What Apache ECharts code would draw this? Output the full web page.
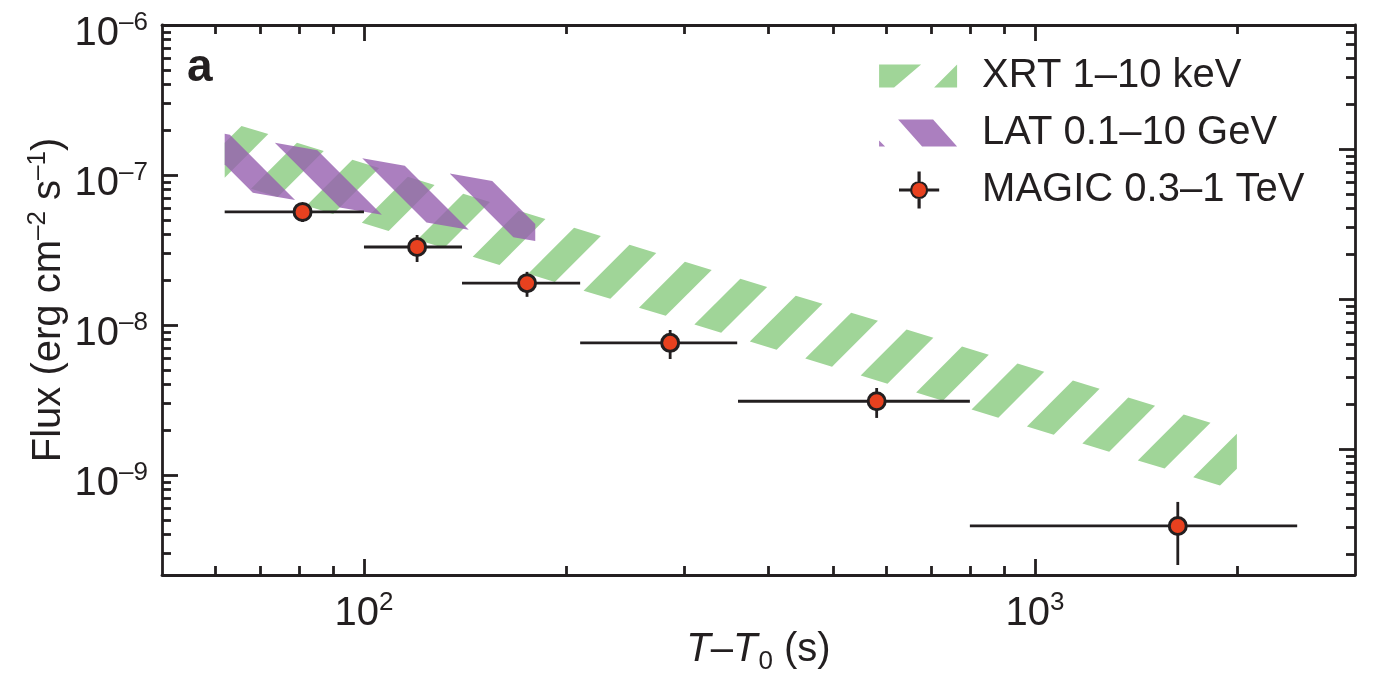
<!DOCTYPE html>
<html>
<head>
<meta charset="utf-8">
<title>Flux light curve</title>
<script src="https://cdn.jsdelivr.net/npm/echarts@6/dist/echarts.min.js"></script>
<style>
html, body { margin: 0; padding: 0; background: #fff; }
#chart { width: 1381px; height: 674px; }
</style>
</head>
<body>
<div id="chart"></div>
<script>
// MAGIC 0.3–1 TeV points: time (s) with bin edges, flux (erg cm-2 s-1) with errors
var magicTime = [81, 120, 175, 286, 581, 1633];
var magicTimeLow = [62, 100, 140, 210, 361, 800];
var magicTimeHigh = [100, 140, 210, 360, 800, 2460];
var magicFlux = [5.67e-8, 3.31e-8, 1.90e-8, 7.6e-9, 3.1e-9, 4.57e-10];
var magicFluxLow = [4.86e-8, 2.63e-8, 1.54e-8, 5.93e-9, 2.40e-9, 2.51e-10];
var magicFluxHigh = [6.31e-8, 3.98e-8, 2.26e-8, 9.26e-9, 3.80e-9, 6.61e-10];

// XRT and LAT bands: start/end time, upper and lower edge at those times
var xrtTime = [62, 2000];
var xrtUpper = [2.30e-7, 1.97e-9];
var xrtLower = [9.15e-8, 7.85e-10];
var latTime = [62, 180];
var latUpper = [1.88e-7, 8.1e-8];
var latLower = [8.2e-8, 3.63e-8];

// axis ticks
var xMajorTicks = [100, 1000];
var xMinorTicks = [60, 70, 80, 90, 200, 300, 400, 500, 600, 700, 800, 900, 2000];
var yMajorTicks = [1e-6, 1e-7, 1e-8, 1e-9];
var yMinorTicks = [2e-10, 3e-10, 4e-10, 5e-10, 6e-10, 7e-10, 8e-10, 9e-10,
  2e-9, 3e-9, 4e-9, 5e-9, 6e-9, 7e-9, 8e-9, 9e-9,
  2e-8, 3e-8, 4e-8, 5e-8, 6e-8, 7e-8, 8e-8, 9e-8,
  2e-7, 3e-7, 4e-7, 5e-7, 6e-7, 7e-7, 8e-7, 9e-7];

var L = Math.log10;
var FONT = "'Liberation Sans', Arial, Helvetica, sans-serif";
var DARK = '#231f20';
var GREEN = '#a0d598';
var PURPLE = 'rgba(150, 95, 175, 0.8)';
var RED = '#e8411f';

// log-space extents
var xMin = L(50), xMax = L(3000);
var yMin = -9.667, yMax = -6;
var rightShift = 0.173; // the right frame ticks sit a little higher than the left ones

function logTicks(list, lo, hi) {
  return list.map(L).filter(function (v) { return v > lo + 1e-6 && v < hi - 1e-6; });
}

// keep the part of a polygon where g(p) >= 0
function clipPoly(poly, g) {
  var out = [];
  for (var i = 0; i < poly.length; i++) {
    var p = poly[i], q = poly[(i + 1) % poly.length];
    var gp = g(p), gq = g(q);
    if (gp >= 0) out.push(p);
    if ((gp >= 0) !== (gq >= 0)) {
      var r = gp / (gp - gq);
      out.push([p[0] + r * (q[0] - p[0]), p[1] + r * (q[1] - p[1])]);
    }
  }
  return out;
}

// band drawn as diagonal hatch stripes
function hatchRenderer(dir, period, fill, phase, color) {
  return function (params, api) {
    var tl = api.coord([api.value(0), api.value(2)]);
    var tr = api.coord([api.value(1), api.value(3)]);
    var br = api.coord([api.value(1), api.value(5)]);
    var bl = api.coord([api.value(0), api.value(4)]);
    var quad = [tl, tr, br, bl];
    var f = function (p) { return p[0] + dir * p[1]; };
    var s0 = f(tl) + phase;
    var vals = quad.map(f);
    var lo = Math.min.apply(null, vals), hi = Math.max.apply(null, vals);
    var children = [];
    for (var k = Math.floor((lo - s0) / period) - 1; s0 + k * period < hi; k++) {
      var a = s0 + k * period, b = a + fill;
      var poly = clipPoly(quad, function (p) { return f(p) - a; });
      poly = clipPoly(poly, function (p) { return b - f(p); });
      if (poly.length > 2) {
        children.push({ type: 'polygon', shape: { points: poly }, style: { fill: color } });
      }
    }
    return { type: 'group', children: children };
  };
}

var supRich = {
  b: { fontSize: 40, lineHeight: 40, verticalAlign: 'top', padding: [9, 0, 0, 0], color: DARK, fontFamily: FONT },
  s: { fontSize: 26, lineHeight: 26, verticalAlign: 'top', padding: [5, 0, 0, 0], color: DARK, fontFamily: FONT }
};

var tickLine = { color: DARK, width: 2.8 };

function xAxisDef(pos, major) {
  var ticks = major ? logTicks(xMajorTicks, xMin, xMax) : logTicks(xMinorTicks, xMin, xMax);
  return {
    type: 'value', position: pos, min: xMin, max: xMax,
    axisLine: { show: major, onZero: false, lineStyle: tickLine },
    axisTick: { show: true, inside: true, length: major ? 16 : 9, customValues: ticks, lineStyle: tickLine },
    axisLabel: { show: false },
    splitLine: { show: false }
  };
}

function yAxisDef(pos, major, shift) {
  var lo = yMin - shift, hi = yMax - shift;
  var ticks = major ? logTicks(yMajorTicks, lo - 0.01, hi + 0.01) : logTicks(yMinorTicks, lo, hi);
  return {
    type: 'value', position: pos, min: lo, max: hi,
    axisLine: { show: major, onZero: false, lineStyle: tickLine },
    axisTick: { show: true, inside: true, length: major ? 16 : 9, customValues: ticks, lineStyle: tickLine },
    axisLabel: { show: false },
    splitLine: { show: false }
  };
}

var xBottom = xAxisDef('bottom', true);
xBottom.axisLabel = {
  show: true, margin: 10,
  customValues: logTicks(xMajorTicks, xMin, xMax),
  formatter: function (v) { return '{b|10}{s|' + Math.round(v) + '}'; },
  rich: supRich
};
xBottom.name = '{i|T}{n|–}{i|T}{sub|0}{n| (s)}';
xBottom.nameLocation = 'middle';
xBottom.nameGap = 55;
xBottom.nameMoveOverlap = false;
xBottom.nameTextStyle = {
  rich: {
    i: { fontSize: 40, lineHeight: 40, fontStyle: 'italic', verticalAlign: 'top', color: DARK, fontFamily: FONT },
    n: { fontSize: 40, lineHeight: 40, verticalAlign: 'top', color: DARK, fontFamily: FONT },
    sub: { fontSize: 26, lineHeight: 26, verticalAlign: 'top', padding: [19, 0, 0, 1], color: DARK, fontFamily: FONT }
  }
};

var yLeft = yAxisDef('left', true, 0);
yLeft.axisLabel = {
  show: true, margin: 14,
  customValues: logTicks(yMajorTicks, yMin - 0.01, yMax + 0.01),
  formatter: function (v) { return '{b|10}{s|–' + Math.round(-v) + '}'; },
  rich: supRich
};
yLeft.name = '{t|Flux (erg cm}{s|–2}{t| s}{s|–1}{t|)}';
yLeft.nameLocation = 'middle';
yLeft.nameRotate = 90;
yLeft.nameGap = 97;
yLeft.nameMoveOverlap = false;
yLeft.nameTextStyle = {
  rich: {
    t: { fontSize: 40, lineHeight: 40, verticalAlign: 'top', padding: [4, 0, 0, 0], color: DARK, fontFamily: FONT },
    s: { fontSize: 26, lineHeight: 26, verticalAlign: 'top', color: DARK, fontFamily: FONT }
  }
};

var xrtData = [[L(xrtTime[0]), L(xrtTime[1]), L(xrtUpper[0]), L(xrtUpper[1]), L(xrtLower[0]), L(xrtLower[1])]];
var latData = [[L(latTime[0]), L(latTime[1]), L(latUpper[0]), L(latUpper[1]), L(latLower[0]), L(latLower[1])]];

var pointData = [];
var barData = [];
for (var i = 0; i < magicTime.length; i++) {
  pointData.push([L(magicTime[i]), L(magicFlux[i])]);
  barData.push([L(magicTime[i]), L(magicTimeLow[i]), L(magicTimeHigh[i]),
    L(magicFlux[i]), L(magicFluxLow[i]), L(magicFluxHigh[i])]);
}

var greenIcon = 'path://M0,0 M78,37 M0,7 L42,7 L15,30 L0,30 Z M78,7 L78,30 L55,30 Z';
var purpleIcon = 'path://M0,0 M78,37 M19,5 L54,5 L78,32 L43,32 Z M0,26 L6,32 L0,32 Z';
var magicIcon = 'path://M0,0 M78,37 M32,18.5 A8,8 0 1 1 48,18.5 A8,8 0 1 1 32,18.5 Z ' +
  'M21,18 L30.8,18 L30.8,19 L21,19 Z M49.2,18 L59,18 L59,19 L49.2,19 Z ' +
  'M39.5,1 L40.5,1 L40.5,9.3 L39.5,9.3 Z M39.5,27.7 L40.5,27.7 L40.5,36 L39.5,36 Z';

var chart = echarts.init(document.getElementById('chart'));
chart.setOption({
  animation: false,
  backgroundColor: '#fff',
  textStyle: { fontFamily: FONT },
  grid: { left: 162, right: 26, top: 25, bottom: 99, outerBoundsMode: 'none' },
  xAxis: [xBottom, xAxisDef('bottom', false), xAxisDef('top', true), xAxisDef('top', false)],
  yAxis: [yLeft, yAxisDef('left', false, 0), yAxisDef('right', true, rightShift), yAxisDef('right', false, rightShift)],
  legend: {
    orient: 'vertical', left: 878, top: 56, padding: 0,
    itemWidth: 78, itemHeight: 37, itemGap: 17,
    symbolKeepAspect: false, selectedMode: false,
    textStyle: { fontSize: 40, lineHeight: 37, color: DARK, fontFamily: FONT, padding: [0, 0, 0, 20] },
    data: [
      { name: 'XRT 1–10 keV', icon: greenIcon, itemStyle: { color: GREEN, borderWidth: 0 } },
      { name: 'LAT 0.1–10 GeV', icon: purpleIcon, itemStyle: { color: PURPLE, borderWidth: 0 } },
      { name: 'MAGIC 0.3–1 TeV', icon: magicIcon, itemStyle: { color: RED, borderColor: DARK, borderWidth: 2.2 } }
    ]
  },
  graphic: [{
    type: 'text', left: 187, top: 45,
    style: { text: 'a', fontSize: 46, fontWeight: 'bold', fontFamily: FONT, fill: DARK }
  }],
  series: [
    {
      name: 'XRT 1–10 keV', type: 'custom', xAxisIndex: 0, yAxisIndex: 0, z: 1, silent: true,
      itemStyle: { color: GREEN },
      renderItem: hatchRenderer(1, 72.4, 35, 22, GREEN),
      encode: { x: [0, 1], y: [2, 3, 4, 5] },
      data: xrtData
    },
    {
      name: 'LAT 0.1–10 GeV', type: 'custom', xAxisIndex: 0, yAxisIndex: 0, z: 2, silent: true,
      itemStyle: { color: PURPLE },
      renderItem: hatchRenderer(-1, 72, 35, 41.3, PURPLE),
      encode: { x: [0, 1], y: [2, 3, 4, 5] },
      data: latData
    },
    {
      name: 'MAGIC errors', type: 'custom', xAxisIndex: 0, yAxisIndex: 0, z: 3, silent: true,
      renderItem: function (params, api) {
        var c = api.coord([api.value(0), api.value(3)]);
        var x0 = api.coord([api.value(1), api.value(3)])[0];
        var x1 = api.coord([api.value(2), api.value(3)])[0];
        var y0 = api.coord([api.value(0), api.value(4)])[1];
        var y1 = api.coord([api.value(0), api.value(5)])[1];
        var st = { stroke: DARK, lineWidth: 2.8, fill: null };
        return {
          type: 'group', children: [
            { type: 'line', shape: { x1: x0, y1: c[1], x2: x1, y2: c[1] }, style: st },
            { type: 'line', shape: { x1: c[0], y1: y0, x2: c[0], y2: y1 }, style: st }
          ]
        };
      },
      encode: { x: [0, 1, 2], y: [3, 4, 5] },
      data: barData
    },
    {
      name: 'MAGIC 0.3–1 TeV', type: 'scatter', xAxisIndex: 0, yAxisIndex: 0, z: 4, silent: true,
      symbol: 'circle', symbolSize: 17,
      itemStyle: { color: RED, borderColor: DARK, borderWidth: 3, opacity: 1 },
      data: pointData
    }
  ]
});
</script>
</body>
</html>
